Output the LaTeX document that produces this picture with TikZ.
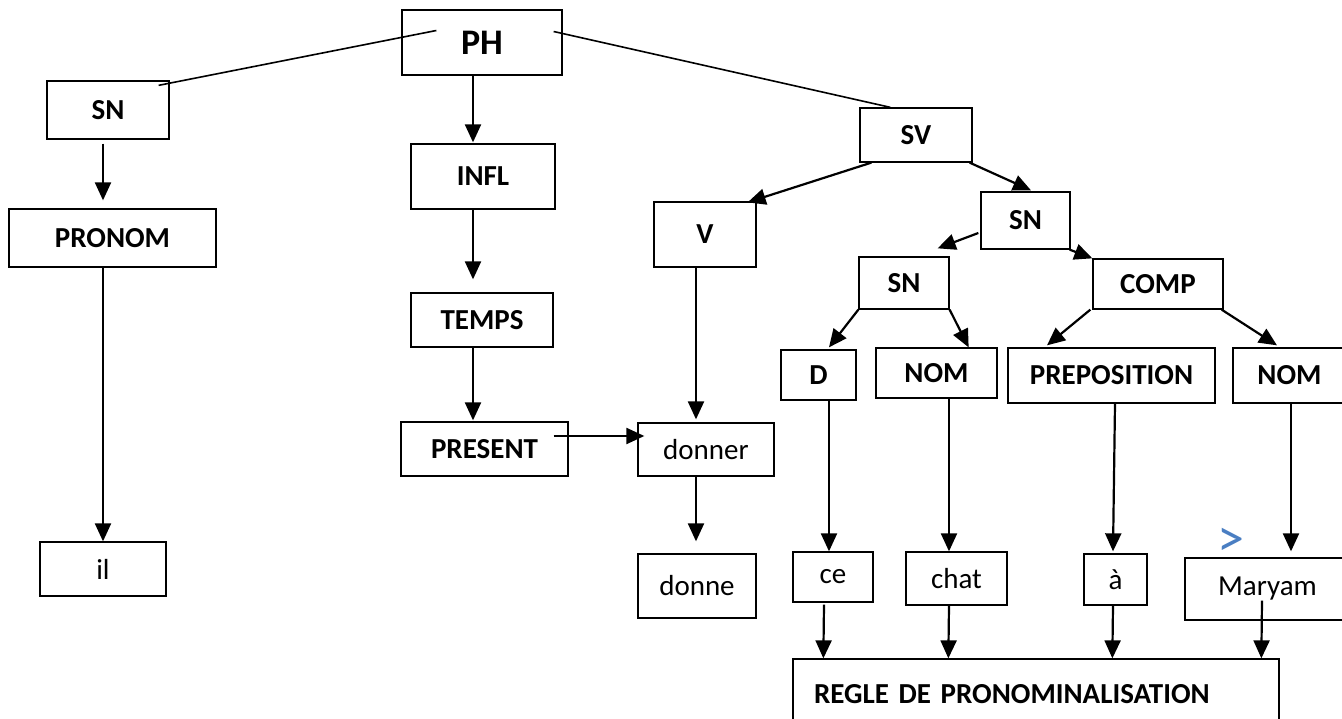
\documentclass[tikz,border=0pt]{standalone}
\usepackage{fontspec}
\setmainfont{Carlito}
\usetikzlibrary{arrows.meta}
\definecolor{chevblue}{HTML}{4A7EC2}

\begin{document}
\begin{tikzpicture}[x=1pt,y=-1pt,
    box/.style={shape=rectangle,draw=black,line width=1.3pt,inner sep=0pt,font=\fontsize{29}{34}\selectfont},
    cat/.style={box,font=\fontsize{29}{34}\selectfont\bfseries},
    arr/.style={line width=2.2pt,-{Triangle[length=18pt,width=16pt]}},
    link/.style={line width=1.6pt}]
      \clip (0,0) rectangle (1342,719);

      \node[cat,minimum width=160,minimum height=65,font=\fontsize{36}{40}\selectfont\bfseries](PH) at (482,42.5) {PH};
      \node[cat,minimum width=122,minimum height=58](SN1) at (108,110) {SN};
      \node[cat,minimum width=207,minimum height=58](PRONOM) at (112.5,238) {PRONOM};
      \node[box,minimum width=126,minimum height=54](IL) at (103,569) {il};
      \node[cat,minimum width=144,minimum height=65](INFL) at (483,176.5) {INFL};
      \node[cat,minimum width=142,minimum height=54](TEMPS) at (482,320) {TEMPS};
      \node[cat,minimum width=167,minimum height=54](PRESENT) at (484.5,449) {PRESENT};
      \node[cat,minimum width=112,minimum height=54](SV) at (916,135) {SV};
      \node[cat,minimum width=102,minimum height=65](V) at (705,234.5) {V};
      \node[box,minimum width=136,minimum height=53](DONNER) at (706,449.5) {donner};
      \node[box,minimum width=118,minimum height=64](DONNE) at (697,586) {donne};
      \node[cat,minimum width=89,minimum height=57](SN2) at (1025.5,220.5) {SN};
      \node[cat,minimum width=90,minimum height=52](SN3) at (904,283) {SN};
      \node[cat,minimum width=130,minimum height=50](COMP) at (1158,284) {COMP};
      \node[cat,minimum width=75,minimum height=50](D) at (818.5,375) {D};
      \node[cat,minimum width=121,minimum height=50](NOM1) at (936.5,373) {NOM};
      \node[cat,minimum width=207,minimum height=55](PREP) at (1111.5,375.5) {PREPOSITION};
      \node[cat,minimum width=113,minimum height=55](NOM2) at (1289.5,375.5) {NOM};
      \node[box,minimum width=80,minimum height=50](CE) at (833,577) {ce};
      \node[box,minimum width=101,minimum height=53](CHAT) at (956.5,578.5) {chat};
      \node[box,minimum width=63,minimum height=51](A) at (1115.5,579.5) {à};
      \node[box,minimum width=165,minimum height=62](MARYAM) at (1267.5,589) {Maryam};
      \node[cat,inner xsep=21pt,text width=444pt,align=left,minimum height=71](REGLE) at (1036,694.5) {REGLE DE PRONOMINALISATION};
      \node[text=chevblue,font=\fontsize{54}{56}\selectfont,inner sep=0pt](GT) at (1231,542) {>};

      \draw[link] ([shift={(35,-12)}]PH.west) -- ([shift={(-11,5)}]SN1.north east);
      \draw[link] ([shift={(-9,-11)}]PH.east) -- ([shift={(31,0)}]SV.north west);

      \path[arr] ([shift={(-5,4)}]SN1.south) edge ([shift={(-9.5,-8)}]PRONOM.north);
      \path[arr] (PRONOM.south -| IL.north) edge (IL.north);
      \path[arr] ([shift={(-9,0)}]PH.south) edge ([shift={(-10,-1)}]INFL.north);
      \path[arr] ([shift={(-10,0)}]INFL.south) edge ([shift={(-9,-13)}]TEMPS.north);
      \path[arr] ([shift={(-9,0)}]TEMPS.south) edge ([shift={(-11.5,-1)}]PRESENT.north);
      \path[arr] ([shift={(-15,-13)}]PRESENT.east) edge ([shift={(7,-13.5)}]DONNER.west);
      \path[arr] ([shift={(12,0)}]SV.south west) edge ([shift={(-9,1)}]V.north east);
      \path[arr] ([shift={(-3,0)}]SV.south east) edge ([shift={(5.5,-1)}]SN2.north);
      \path[arr] ([shift={(-9,0)}]V.south) edge ([shift={(-10,-3)}]DONNER.north);
      \path[arr] ([shift={(-10,0)}]DONNER.south) edge ([shift={(-1,-12)}]DONNE.north);
      \path[arr] ([shift={(-2,12.5)}]SN2.west) edge ([shift={(-12,-8)}]SN3.north east);
      \path[arr] ([shift={(-1,0)}]SN2.south east) edge (COMP.north west);
      \path[arr] (SN3.south west) edge ([shift={(10.5,-2)}]D.north);
      \path[arr] (SN3.south east) edge ([shift={(-29,0)}]NOM1.north east);
      \path[arr] ([shift={(-2,0)}]COMP.south west) edge ([shift={(-64.5,-2)}]PREP.north);
      \path[arr] ([shift={(-2,0)}]COMP.south east) edge ([shift={(-12.5,-2)}]NOM2.north);
      \path[arr] ([shift={(10.5,0)}]D.south) edge ([shift={(-4,0)}]CE.north);
      \path[arr] ([shift={(12.5,0)}]NOM1.south) edge ([shift={(-7.5,0)}]CHAT.north);
      \path[arr] ([shift={(3.5,0)}]PREP.south) edge ([shift={(-2.5,-2)}]A.north);
      \path[arr] ([shift={(1.5,0)}]NOM2.south) edge ([shift={(23.5,-6)}]MARYAM.north);
      \path[arr] ([shift={(-9,2)}]CE.south) edge ([shift={(31,0)}]REGLE.north west);
      \path[arr] ([shift={(-7.5,0)}]CHAT.south) edge ([shift={(156,0)}]REGLE.north west);
      \path[arr] ([shift={(-2.5,0)}]A.south) edge ([shift={(320,0)}]REGLE.north west);
      \path[arr] ([shift={(-5.5,-20)}]MARYAM.south) edge ([shift={(469,0)}]REGLE.north west);
    \end{tikzpicture}
\end{document}
